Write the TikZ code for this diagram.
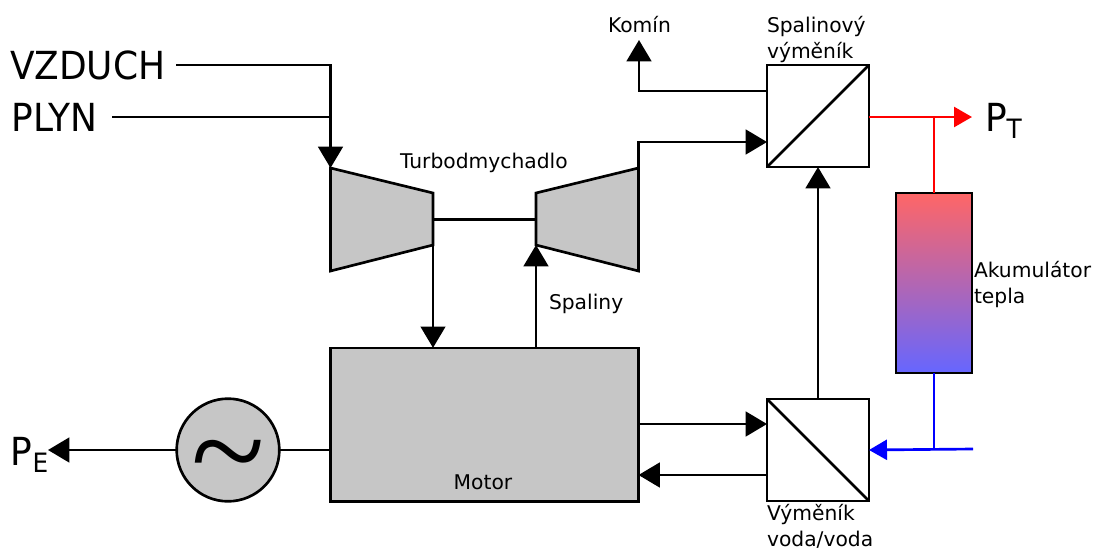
\documentclass[tikz,border=0pt]{standalone}
\usepackage{fontspec}
\setmainfont{DejaVu Sans}
\newfontfamily\vlnafont{Liberation Serif}
\usepackage{tikz}
\usetikzlibrary{positioning,arrows.meta,calc}

\newcommand{\bigtext}{\fontsize{29}{34}\selectfont}
\newcommand{\smalltext}{\fontsize{15.2}{19.5}\selectfont}
\newcommand{\powsub}[1]{P\raisebox{-5.5pt}{\fontsize{20}{20}\selectfont #1}}

\begin{document}
\begin{tikzpicture}[
  x=0.75pt, y=-0.75pt,
  every node/.style={inner sep=0pt, outer sep=0pt},
  lbl/.style={font=\smalltext, align=left},
  big/.style={font=\bigtext, xscale=0.93},
  unit/.style={draw=black, fill=gray!45, line width=2pt},
  exch/.style={draw=black, fill=white, line width=2pt, minimum width=76.5pt, minimum height=76.5pt},
  pipe/.style={line width=2pt, draw=black},
  e/.style={pipe, -{Triangle[length=16pt,width=18.5pt]}},
  hot/.style={line width=2pt, draw=red},
  cold/.style={line width=2pt, draw=blue},
  ehot/.style={hot, -{Triangle[length=13.5pt,width=15pt]}},
  ecold/.style={cold, -{Triangle[length=13.5pt,width=15pt]}}
]
\useasboundingbox (0,0) rectangle (1096,550);

% turbodmychadlo
\coordinate (kompA) at (330.5,168);
\coordinate (kompB) at (433,193);
\coordinate (kompC) at (433,245);
\coordinate (kompD) at (330.5,271);
\coordinate (turbA) at (638.5,168);
\coordinate (turbB) at (536,193);
\coordinate (turbC) at (536,245);
\coordinate (turbD) at (638.5,271);
\draw[unit] (kompA) -- (kompB) -- (kompC) -- (kompD) -- cycle;
\draw[unit] (turbA) -- (turbB) -- (turbC) -- (turbD) -- cycle;
\coordinate (hrideleL) at (433,219.5);
\coordinate (hrideleP) at (536,219.5);
\draw[pipe] (hrideleL) -- (hrideleP);

\node[unit, minimum width=231pt, minimum height=115pt] (motor) at (484.5,424.5) {};
\node[unit, circle, minimum size=77pt] (gen) at (228,450) {};
\node[font=\vlnafont\fontsize{102}{102}\selectfont, yshift=-14pt] (vlna) at (gen.center) {\char`\~};
\node[exch] (spvym) at (818,116) {};
\node[exch] (vodvym) at (818,450) {};
\draw[pipe] (spvym.south west) -- (spvym.north east);
\draw[pipe] (vodvym.north west) -- (vodvym.south east);
\node[draw=black, line width=2pt, minimum width=57pt, minimum height=135pt, top color={rgb,255:red,255;green,102;blue,102}, bottom color={rgb,255:red,102;green,102;blue,255}] (aku) at (934,283) {};

% popisky
\node[big, anchor=base west] (vzduch) at (10,79) {VZDUCH};
\node[big, anchor=base west] (plyn) at (12,131) {PLYN};
\node[big, anchor=base west] (pt) at (985,131) {\powsub{T}};
\node[big, anchor=base west] (pe) at (11,465) {\powsub{E}};
\node[lbl, anchor=base west] (turbo) at (400,168) {Turbodmychadlo};
\node[lbl, anchor=base west] (kominL) at (608,32) {Komín};
\node[lbl, anchor=base west] (spaliny) at (549,309) {Spaliny};
\node[lbl, anchor=base] (motorL) at (483,489) {Motor};
\node[lbl, anchor=south west, yshift=2pt] (spvymL) at (spvym.north west) {Spalinový\\výměník};
\node[lbl, anchor=north west, yshift=-2.5pt] (vodvymL) at (vodvym.south west) {Výměník\\voda/voda};
\node[lbl, anchor=north west] (akuL) at (974,261) {Akumulátor\\tepla};

% rozvody
\coordinate (vzduchK) at (176,65);
\coordinate (plynK) at (112,117);
\coordinate (rozv) at (330.5,117);
\draw[pipe] (vzduchK) -| (rozv);
\draw[pipe] (plynK) -- (rozv);
\draw[e] (vzduchK -| kompA) -- (kompA);
\draw[e] (kompC) -- (kompC |- motor.north);
\draw[e] (turbC |- motor.north) -- (turbC);
\draw[e] (turbA) |- (spvym.west |- 0,142);
\coordinate (kominK) at (639,40);
\draw[e] (spvym.west |- 0,91) -| (kominK);
\draw[e] (vodvym.north) -- (spvym.south);
\draw[e] (motor.east |- 0,424) -- (vodvym.west |- 0,424);
\draw[e] (vodvym.west |- 0,475) -- (motor.east |- 0,475);
\draw[pipe] (motor.west |- gen.east) -- (gen.east);
\coordinate (peK) at (48,450);
\draw[e] (gen.west) -- (peK);

% teplo
\coordinate (ptK) at (972,117);
\draw[ehot] (spvym.east |- ptK) -- (ptK);
\draw[hot] (aku.north) -- (aku.north |- ptK);
\coordinate (vstup) at (973,449);
\draw[ecold] (vstup) -- (vodvym.east);
\draw[cold] (aku.south) -- (aku.south |- vodvym.east);
\end{tikzpicture}
\end{document}
